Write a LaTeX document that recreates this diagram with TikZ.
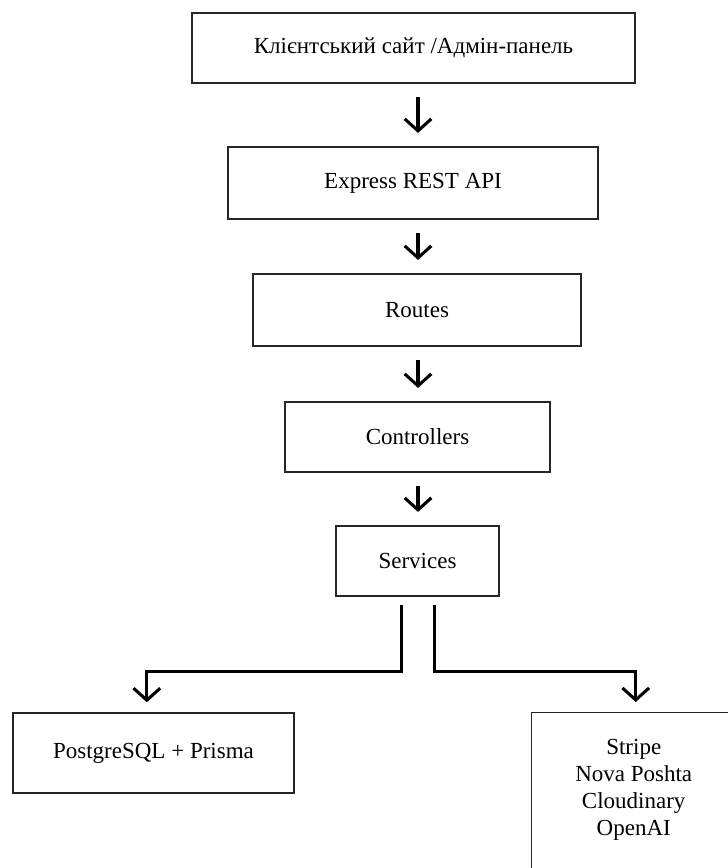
\documentclass[tikz,border=0pt]{standalone}
\usepackage{fontspec}
\setmainfont{Liberation Serif}
\usetikzlibrary{arrows.meta,positioning}

\tikzset{
  block/.style={draw=black!85, line width=1.1pt, rectangle, inner sep=0pt,
    align=center, font=\fontsize{17.25}{20.25}\selectfont},
  flow/.style={-{Straight Barb[length=9pt,width=20pt]}, line width=2.3pt,
    shorten <=10pt, shorten >=10pt},
}

\begin{document}
\begin{tikzpicture}[x=0.75pt, y=-0.75pt]
        \clip (0,0) rectangle (728,868);

        % Warstwy
        \node[block, minimum width=332.25pt, minimum height=52.5pt] (client) at (413.5,48) {Клієнтський сайт /Адмін-панель};
        \node[block, minimum width=277.5pt, minimum height=54pt] (api) at (413,183) {Express REST API};
        \node[block, minimum width=246pt, minimum height=54pt] (routes) at (417,310) {Routes};
        \node[block, minimum width=198.75pt, minimum height=52.5pt] (ctrl) at (417.5,437) {Controllers};
        \node[block, minimum width=122.25pt, minimum height=52.5pt] (svc) at (417.5,561) {Services};
        \node[block, minimum width=210.75pt, minimum height=60pt] (db) at (153.5,753) {PostgreSQL + Prisma};
        \node[block, anchor=north west, minimum width=153pt, minimum height=150pt] (ext) at (531,712) {};
        \node[block, draw=none, below=20pt of ext.north] (extlist) {Stripe\\Nova Poshta\\Cloudinary\\OpenAI};

        % Strzałki
        \coordinate (axis) at (418,0);
        \draw[flow] (client.south -| axis) -- (api.north -| axis);
        \draw[flow] (api.south -| axis) -- (routes.north -| axis);
        \draw[flow] (routes.south -| axis) -- (ctrl.north -| axis);
        \draw[flow] (ctrl.south -| axis) -- (svc.north -| axis);

        % Rozgałęzienie
        \draw[flow, shorten <=0pt, shorten >=0pt] ([xshift=-12pt, yshift=-6pt]svc.south) -- ++(0,67) -| ([xshift=-5pt, yshift=7.5pt]db.north);
        \draw[flow, shorten <=0pt, shorten >=0pt] ([xshift=13pt, yshift=-6pt]svc.south) -- ++(0,67) -| ([xshift=1.5pt, yshift=7.5pt]ext.north);

    \end{tikzpicture}
\end{document}
